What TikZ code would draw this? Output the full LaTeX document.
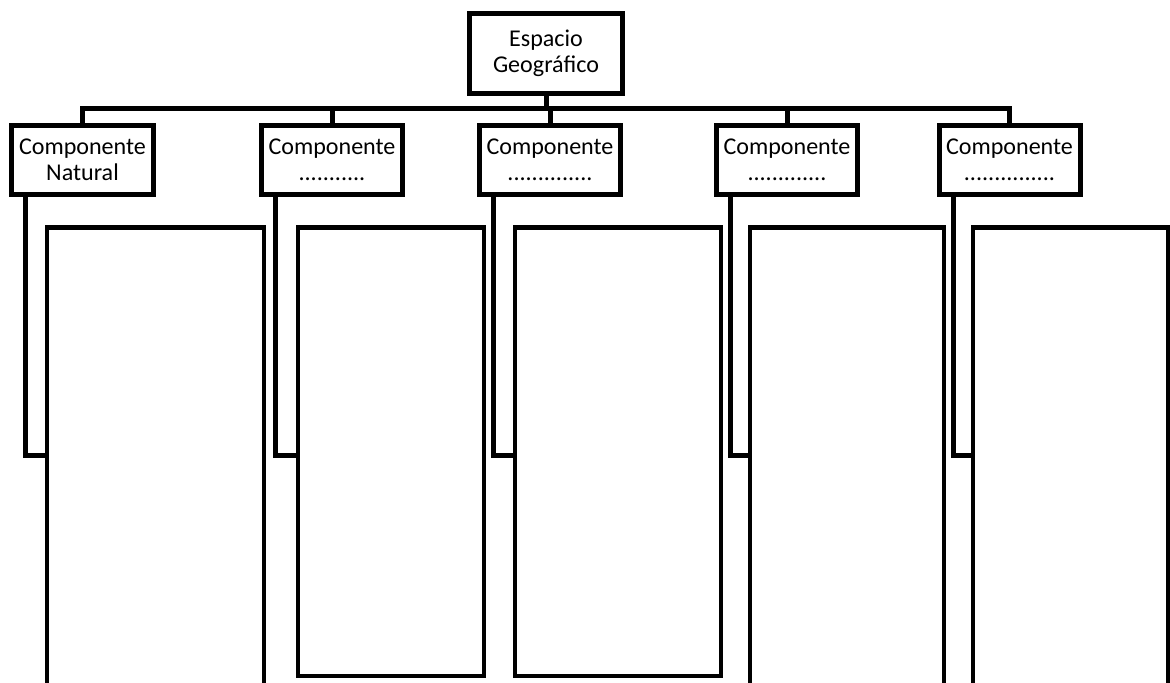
\documentclass[tikz,border=0pt]{standalone}
\usepackage{fontspec}
\setmainfont{Carlito}
\begin{document}
\begin{tikzpicture}[
  comp/.style={draw, line width=0.1cm, align=center, inner sep=0pt, outer sep=0pt,
    minimum width=2.82cm, minimum height=1.38cm, font={\fontsize{13.7}{14.6}\selectfont}},
  bigbox/.style={draw, line width=0.095cm, inner sep=0pt, outer sep=0pt, anchor=north west},
  link/.style={line width=0.1cm}]
  \clip (0,0) rectangle (23.4,13.66);
  \node[comp, minimum width=3.06cm, minimum height=1.6cm] (esp) at (10.92,12.59) {Espacio\\Geográfico};
  \node[comp] (c1) at (1.65,10.46) {Componente\\Natural};
  \node[comp] (c2) at (6.64,10.46) {Componente\\...........};
  \node[comp] (c3) at (11,10.46) {Componente\\..............};
  \node[comp] (c4) at (15.74,10.46) {Componente\\.............};
  \node[comp] (c5) at (20.19,10.46) {Componente\\...............};
  \node[bigbox, minimum width=4.34cm, minimum height=9.6cm] (r1) at (0.94,9.11) {};
  \node[bigbox, minimum width=3.72cm, minimum height=8.97cm] (r2) at (5.96,9.11) {};
  \node[bigbox, minimum width=4.12cm, minimum height=8.97cm] (r3) at (10.3,9.11) {};
  \node[bigbox, minimum width=3.88cm, minimum height=9.6cm] (r4) at (15,9.11) {};
  \node[bigbox, minimum width=3.9cm, minimum height=9.6cm] (r5) at (19.46,9.11) {};
  % \draw[link] (esp.south) -- (c3.north);
  \draw[link] (esp.south) -- ++(0,-0.29);
  \draw[link] (c1.north) -- ++(0,0.34) -| (c5.north);
  \draw[link] (c2.north) -- ++(0,0.34);
  \draw[link] (c3.north) -- ++(0,0.34);
  \draw[link] (c4.north) -- ++(0,0.34);
  \draw[link] ([xshift=0.28cm]c1.south west) |- ([yshift=-4.56cm]r1.north west);
  \draw[link] ([xshift=0.28cm]c2.south west) |- ([yshift=-4.56cm]r2.north west);
  \draw[link] ([xshift=0.28cm]c3.south west) |- ([yshift=-4.56cm]r3.north west);
  \draw[link] ([xshift=0.28cm]c4.south west) |- ([yshift=-4.56cm]r4.north west);
  \draw[link] ([xshift=0.28cm]c5.south west) |- ([yshift=-4.56cm]r5.north west);
\end{tikzpicture}
\end{document}
